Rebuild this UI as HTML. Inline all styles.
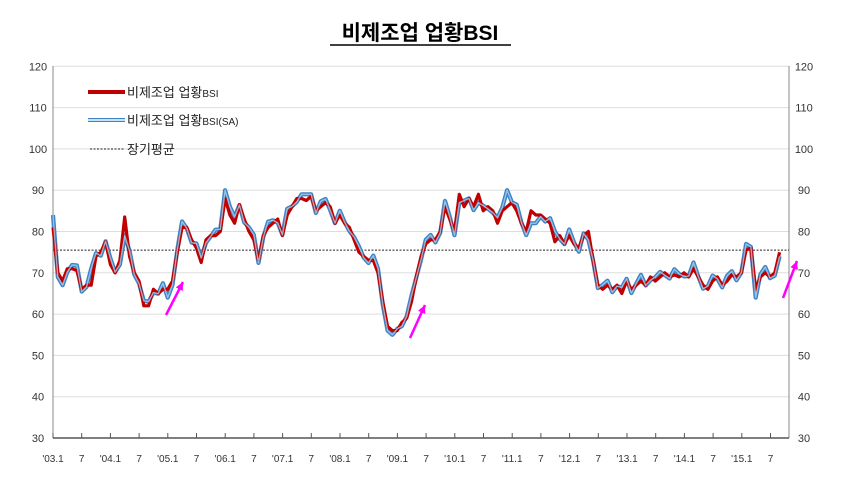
<!DOCTYPE html>
<html><head><meta charset="utf-8">
<style>
body{margin:0;background:#fff;width:862px;height:482px;overflow:hidden;font-family:"Liberation Sans","Noto Sans CJK KR",sans-serif;}
</style></head><body>
<svg id="s" width="862" height="482" xmlns="http://www.w3.org/2000/svg" font-family="Liberation Sans, Noto Sans CJK KR, sans-serif">
<text x="420" y="40" text-anchor="middle" font-size="21" font-weight="bold" fill="#000">비제조업 업황BSI</text>
<line x1="330" y1="45" x2="511" y2="45" stroke="#000" stroke-width="1.5"/>
<g id="g"></g>
</svg>
<script>
const X0=53,DX=4.78,Y30=438,PY=4.13;
const y=v=>Y30-(v-30)*PY, x=m=>X0+m*DX;
let h='';
for(let v=30;v<=120;v+=10){
  if(v>30) h+=`<line x1="53" y1="${y(v)}" x2="789" y2="${y(v)}" stroke="#ddd" stroke-width="1"/>`;
  h+=`<text x="38" y="${y(v)+4}" text-anchor="middle" font-size="11" fill="#333">${v}</text>`;
  h+=`<text x="804" y="${y(v)+4}" text-anchor="middle" font-size="11" fill="#333">${v}</text>`;
}
h+=`<line x1="53" y1="66" x2="53" y2="438" stroke="#888"/><line x1="789" y1="66" x2="789" y2="438" stroke="#888"/><line x1="53" y1="438" x2="789" y2="438" stroke="#555" stroke-width="1.5"/>`;
for(let k=0;k<26;k++){let xx=X0+k*28.7;
 h+=`<line x1="${xx}" y1="433" x2="${xx}" y2="438" stroke="#555"/>`;
 let lab=k%2==0?`'${String(3+k/2).padStart(2,'0')}.1`:'7';
 h+=`<text x="${xx}" y="462" text-anchor="middle" font-size="10" fill="#333">${lab}</text>`;}
h+=`<line x1="53" y1="${y(75.5)}" x2="789" y2="${y(75.5)}" stroke="#222" stroke-width="1" stroke-dasharray="2,1.5"/>`;
const r=[81,70,68,71,71,70.5,66,67,67,74,75,77.5,72,70,73,83.5,74,70,68,62,62,66,65,66,66,68,75,81,81,78,76,72.5,78,79,79,80,88,84,82,86.5,83,80,78,73,79,81,82,83,79,84,86,88,88,87.5,88.5,85,86,87,86,82,84,82,81,78,75,74,73,73,70,63,57,56,56,58,59,63,69,74,77,78,78,80,86,83,80,89,86,88,86,89,85,86,85,82,85,86,87,85,82,80,85,84,84,83,82,77.5,79,77,79,77,76,79,80,73,67,66,67,66,67,65,68,66,67,68,67,69,68,69,70,69,69.5,69,70,69,71,69,67,66,68,69,67,68,69.5,69,70,75.5,76,66,69,70,69,70,75];
const ov={0:84,1:69,2:67,8:71,14:72,15:79,20:63,24:64,36:90,37:86,52:89,53:89,54:89,60:85,70:56,71:55,85:87,89:87,95:90,100:82,101:82,105:80,112:78,113:73,147:64,152:74};
const b=r.map((v,i)=>ov[i]!==undefined?ov[i]:v+Math.sin(i*1.7)*1.2+0.3);
const pts=a=>a.map((v,i)=>`${x(i).toFixed(1)},${y(v).toFixed(1)}`).join(' ');
h+=`<polyline points="${pts(b)}" fill="none" stroke="#3d82c4" stroke-width="4.2" stroke-linejoin="round"/>`;
h+=`<polyline points="${pts(r)}" fill="none" stroke="#c00000" stroke-width="3.2" stroke-linejoin="round"/>`;
h+=`<polyline points="${pts(b)}" fill="none" stroke="#a9d3f2" stroke-width="1.4" stroke-linejoin="round" opacity="0.8"/>`;
// legend
h+=`<line x1="88" y1="92" x2="125" y2="92" stroke="#c00000" stroke-width="4"/><text x="127" y="97" font-size="13" fill="#222">비제조업 업황<tspan font-size="10">BSI</tspan></text>`;
h+=`<line x1="88" y1="120" x2="125" y2="120" stroke="#3d82c4" stroke-width="4"/><line x1="88" y1="120" x2="125" y2="120" stroke="#c5e3f7" stroke-width="2"/><text x="127" y="125" font-size="13" fill="#222">비제조업 업황<tspan font-size="10">BSI(SA)</tspan></text>`;
h+=`<line x1="90" y1="149" x2="124" y2="149" stroke="#222" stroke-dasharray="2,1.5"/><text x="127" y="154" font-size="13" fill="#222">장기평균</text>`;
// arrows
const arr=(x1,y1,x2,y2)=>{let a=Math.atan2(y2-y1,x2-x1),L=9;
 return `<line x1="${x1}" y1="${y1}" x2="${x2}" y2="${y2}" stroke="#ff00ff" stroke-width="2.5"/><polygon points="${x2},${y2} ${x2-L*Math.cos(a-0.45)},${y2-L*Math.sin(a-0.45)} ${x2-L*Math.cos(a+0.45)},${y2-L*Math.sin(a+0.45)}" fill="#ff00ff"/>`;};
h+=arr(166,315,183,282)+arr(410,338,425,305)+arr(783,298,797,261);
document.getElementById('g').innerHTML=h;
</script>
</body></html>
